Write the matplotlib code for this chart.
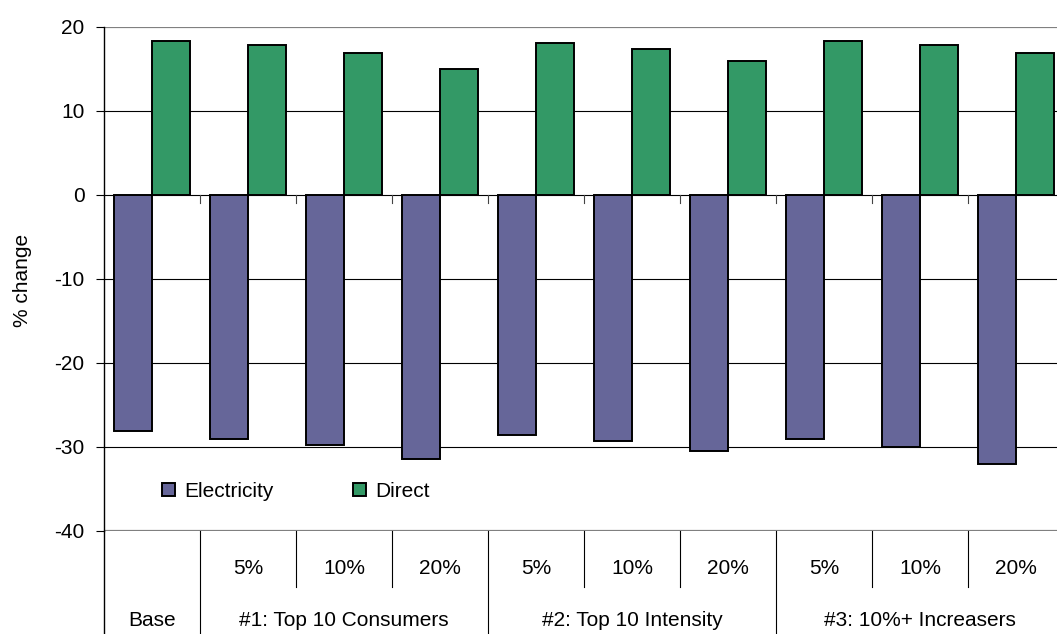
import matplotlib
matplotlib.use("Agg")
import matplotlib.pyplot as plt
import matplotlib.transforms as mtransforms
import numpy as np

plt.rcParams['font.family'] = ['Liberation Sans', 'DejaVu Sans']
plt.rcParams['axes.unicode_minus'] = False

# data
sub_labels = ["", "5%", "10%", "20%", "5%", "10%", "20%", "5%", "10%", "20%"]
groups = ["Base", "#1: Top 10 Consumers", "#2: Top 10 Intensity", "#3: 10%+ Increasers"]
group_sizes = [1, 3, 3, 3]
electricity = [-28.1, -29.1, -29.8, -31.4, -28.6, -29.3, -30.5, -29.1, -30.0, -32.0]
direct = [18.3, 17.8, 16.9, 15.0, 18.1, 17.4, 15.9, 18.3, 17.9, 16.9]
yticks = [-40, -30, -20, -10, 0, 10, 20]

elec_color = "#666699"
direct_color = "#339966"
fs = 15

W, H = 1057, 634
fig = plt.figure(figsize=(W / 100, H / 100), dpi=100)
ax = fig.add_axes([104 / W, 1 - 531 / H, 960 / W, (531 - 27) / H])

x = np.arange(len(electricity))
bw = 0.4
ax.bar(x - bw / 2, electricity, bw, color=elec_color, edgecolor="black", linewidth=1.4, label="Electricity", zorder=3)
ax.bar(x + bw / 2, direct, bw, color=direct_color, edgecolor="black", linewidth=1.4, label="Direct", zorder=3)

ax.set_xlim(-0.5, len(x) - 0.5)
ax.set_ylim(-40, 20)
ax.set_yticks(yticks)
ax.set_xticks([])
ax.tick_params(axis="y", length=6, width=0.8, pad=8, labelsize=fs, direction="out")
fig.text(23 / W, 1 - 280 / H, "% change", rotation=90, ha="center", va="center", fontsize=fs)

for s in ["top", "right", "bottom"]:
    ax.spines[s].set_visible(False)
ax.spines["left"].set_linewidth(1.0)

# gridlines
for v in yticks:
    if v in (20, -40):
        ax.axhline(v, color="#808080", linewidth=1.6, zorder=1)
    else:
        ax.axhline(v, color="black", linewidth=0.8, zorder=1)

# small category tick marks on the zero line
for b in np.arange(0.5, len(x) - 0.5, 1.0):
    ax.plot([b, b], [0, -0.9], color="#444444", linewidth=0.8, zorder=2)

# legend
ax.legend(loc="center left", bbox_to_anchor=(0.052, 0.079), ncol=2, frameon=False,
          fontsize=fs, handlelength=0.63, handleheight=0.63, handletextpad=0.43,
          columnspacing=3.8, borderaxespad=0)

# category table under the plot
trans = mtransforms.blended_transform_factory(ax.transData, fig.transFigure)
axis_bottom = 1 - 531 / H
row1_bottom = 1 - 587 / H
ax.plot([-0.5, -0.5], [0, axis_bottom], transform=trans, color="black", linewidth=1.0, clip_on=False)

group_edges = np.cumsum([0] + group_sizes) - 0.5
for b in np.arange(0.5, len(x) - 0.5, 1.0):
    if np.any(np.isclose(group_edges, b)):
        ax.plot([b, b], [0, axis_bottom], transform=trans, color="black", linewidth=0.8, clip_on=False)
    else:
        ax.plot([b, b], [row1_bottom, axis_bottom], transform=trans, color="black", linewidth=0.8, clip_on=False)

for i, lab in enumerate(sub_labels):
    if lab:
        ax.text(i, 1 - 569 / H, lab, transform=trans, ha="center", va="center", fontsize=fs)

for g, (lab, n) in enumerate(zip(groups, group_sizes)):
    center = (group_edges[g] + group_edges[g + 1]) / 2
    ax.text(center, 1 - 621 / H, lab, transform=trans, ha="center", va="center", fontsize=fs)

fig.savefig("out.png", dpi=100)
